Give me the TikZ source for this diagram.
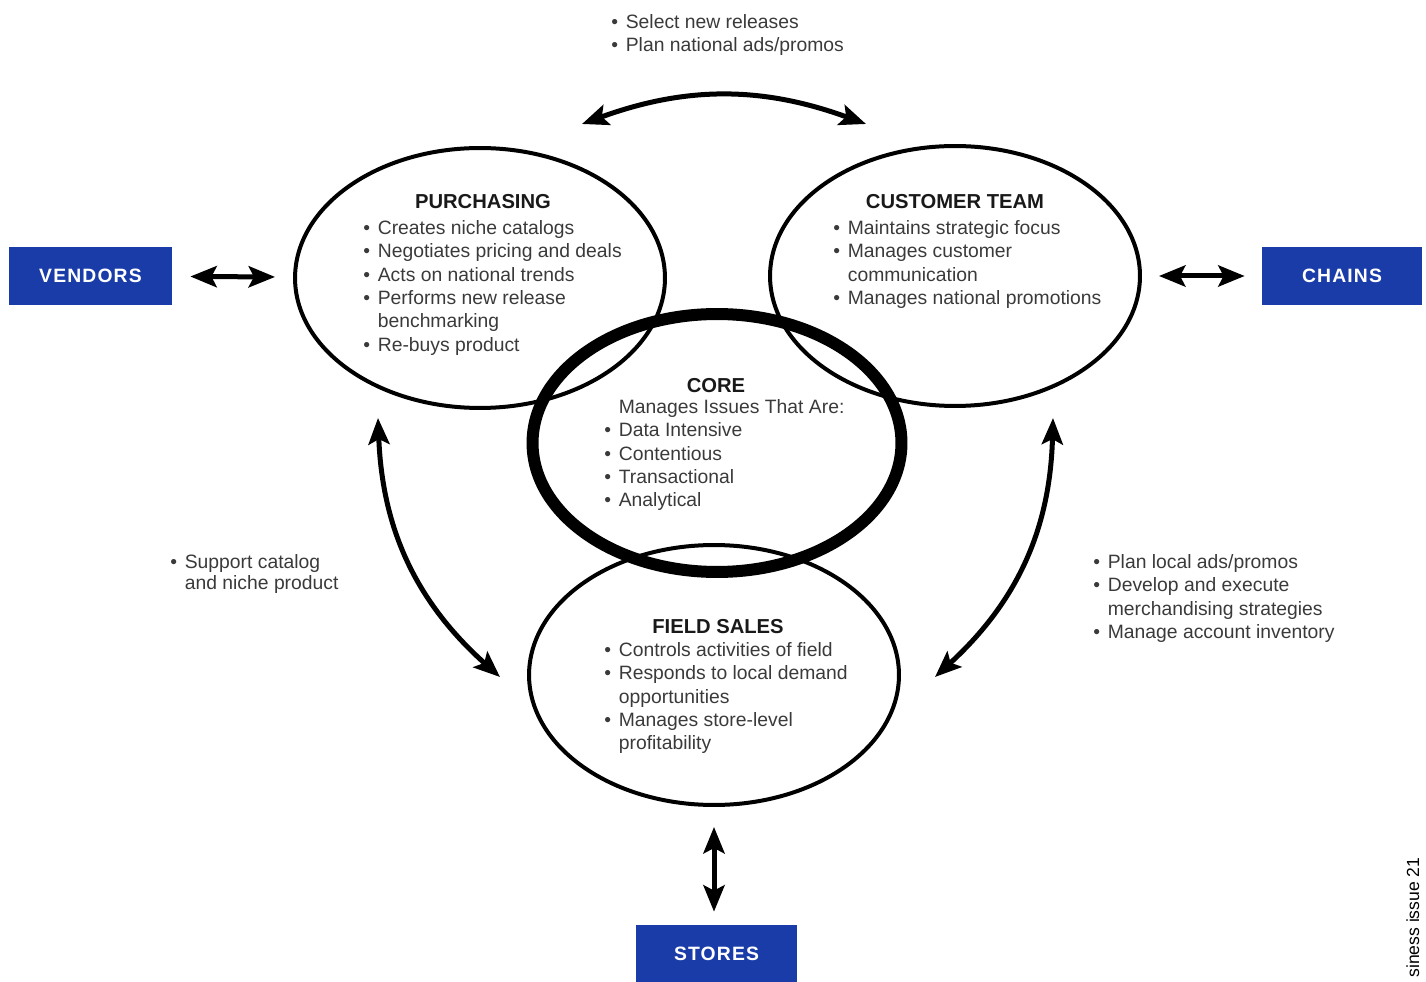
\documentclass[tikz,border=0pt]{standalone}
\usepackage{fontspec}
\setmainfont{Liberation Sans}
\newfontfamily\boxfont[LetterSpace=6]{Liberation Sans}
\usetikzlibrary{shapes.geometric,arrows.meta}
\definecolor{boxblue}{HTML}{1A3CA8}
\definecolor{txtgrey}{HTML}{3A3A3A}
\newcommand{\bul}{\makebox[0.75em][l]{\textbullet}}
\newcommand{\nob}{\hspace*{0.75em}}

\begin{document}
\begin{tikzpicture}[x=0.02cm,y=-0.02cm,
    unit/.style={ellipse,draw,line width=0.08cm,minimum width=7.4cm,
      minimum height=5.2cm,inner sep=0pt},
    corering/.style={unit,line width=0.24cm},
    bluebox/.style={fill=boxblue,text=white,inner sep=0pt,
      font=\boxfont\bfseries\fontsize{11}{13}\selectfont,
      minimum width=3.26cm,minimum height=1.16cm},
    head/.style={font=\bfseries\fontsize{11.5}{14}\selectfont,text=black!90},
    points/.style={anchor=north west,align=left,inner sep=0pt,text=txtgrey,
      font=\fontsize{11}{13.3}\selectfont},
    dbl/.style={line width=0.1cm,
      {Stealth[length=15pt,width=12pt,inset=3pt]}-{Stealth[length=15pt,width=12pt,inset=3pt]}}
  ]
  \useasboundingbox (0,0) rectangle (1426,982);

  \node[unit] (purch) at (480,278) {};
  \node[unit] (cust) at (955,276) {};
  \node[unit] (field) at (714,675) {};
  \node[corering,minimum width=7.38cm,minimum height=5.16cm] (core) at (717,443) {};

  \node[bluebox] (vendors) at (90.5,276) {VENDORS};
  \node[bluebox,minimum width=3.2cm] (chains) at (1342,276) {CHAINS};
  \node[bluebox,minimum width=3.22cm] (stores) at (716.5,954) {STORES};

  \node[head] (purch-h) at (483,202) {PURCHASING};
  \node[head] (cust-h) at (955,202) {CUSTOMER TEAM};
  \node[head] (core-h) at (716,386) {CORE};
  \node[head] (field-h) at (718,627) {FIELD SALES};

  \node[points] (purch-t) at (363,220) {\bul Creates niche catalogs\\
    \bul Negotiates pricing and deals\\ \bul Acts on national trends\\
    \bul Performs new release\\ \nob benchmarking\\ \bul Re-buys product};
  \node[points] (cust-t) at (833,220) {\bul Maintains strategic focus\\
    \bul Manages customer\\ \nob communication\\
    \bul Manages national promotions};
  \node[points] (core-t) at (604,399) {\nob Manages Issues That Are:\\
    \bul Data Intensive\\ \bul Contentious\\ \bul Transactional\\
    \bul Analytical};
  \node[points] (field-t) at (604,642) {\bul Controls activities of field\\
    \bul Responds to local demand\\ \nob opportunities\\
    \bul Manages store-level\\ \nob profitability};

  \node[points] (top-t) at (611,14) {\bul Select new releases\\
    \bul Plan national ads/promos};
  \node[points,font=\fontsize{11}{12}\selectfont] (left-t) at (170,554)
    {\bul Support catalog\\ \nob and niche product};
  \node[points] (right-t) at (1093,554) {\bul Plan local ads/promos\\
    \bul Develop and execute\\ \nob merchandising strategies\\
    \bul Manage account inventory};

  \node[rotate=90,anchor=base west,inner sep=0pt,text=black,
    font=\fontsize{10}{12}\selectfont] (issue) at (1419,978) {siness issue 21};

  \coordinate (top-l) at (582,124);
  \coordinate (top-r) at (866,124);
  \coordinate (left-a) at (378,418);
  \coordinate (left-b) at (500,677);
  \coordinate (right-a) at (1053,418);
  \coordinate (right-b) at (935,677);

  \draw[dbl] (top-l) to[bend left=20] (top-r);
  \draw[dbl] (left-a) to[bend right=23] (left-b);
  \draw[dbl] (right-a) to[bend left=23] (right-b);
  \draw[dbl,shorten <=0.36cm,shorten >=0.36cm] (vendors) -- (purch);
  \draw[dbl,shorten <=0.34cm,shorten >=0.34cm] (cust) -- (chains);
  \draw[dbl,shorten <=0.4cm,shorten >=0.26cm] (field.south) -- (field.south |- stores.north);
\end{tikzpicture}
\end{document}
